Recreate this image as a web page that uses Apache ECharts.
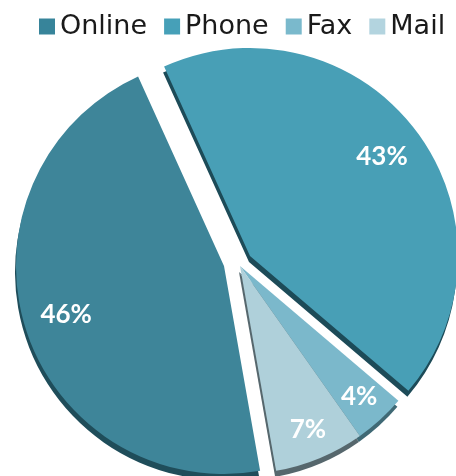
<!DOCTYPE html>
<html>
<head>
<meta charset="utf-8">
<script src="https://cdn.jsdelivr.net/npm/echarts@6/dist/echarts.min.js"></script>
<style>
html,body{margin:0;padding:0;background:#fff;}
#chart{width:456px;height:476px;}
</style>
</head>
<body>
<div id="chart"></div>
<script>
// ---- data ----
const categories = ['Online', 'Phone', 'Fax', 'Mail'];
const shares = [46, 43, 4, 7];
// which categories are pulled out together (indices into categories)
const explodedGroups = [[0], [1], [2, 3]];

// ---- styles ----
const sliceColors = ['#3e8599', '#489fb6', '#7bb8cb', '#afd0da'];
const legendColors = ['#37849a', '#46a0b8', '#7ab9cc', '#b3d4df'];
const sideColors = ['#1f4d5a', '#1d4b58', '#3f6975', '#56676d'];
const groupCenters = [[224, 266], [250, 256], [240, 266]];
const labelRadiusFactor = [1.56, 1.56, 1.67];
const R = 208;
const START = -80;

const chart = echarts.init(document.getElementById('chart'), null, {renderer: 'canvas'});

const series = [];
explodedGroups.forEach((grp, gi) => {
  const c = groupCenters[gi];
  series.push({
    type: 'pie',
    center: c,
    radius: [0, R],
    startAngle: START,
    clockwise: true,
    avoidLabelOverlap: false,
    silent: true,
    emphasis: {disabled: true},
    label: {show: false},
    labelLine: {show: false},
    data: categories.map((name, i) => ({
      name: name,
      value: shares[i],
      itemStyle: grp.includes(i) ? {
        color: sliceColors[i],
        shadowColor: sideColors[i],
        shadowBlur: 0,
        shadowOffsetX: -1,
        shadowOffsetY: 6
      } : {color: 'rgba(0,0,0,0)'}
    }))
  });
  series.push({
    type: 'pie',
    center: c,
    radius: [0, R * labelRadiusFactor[gi]],
    startAngle: START,
    clockwise: true,
    avoidLabelOverlap: false,
    silent: true,
    emphasis: {disabled: true},
    labelLine: {show: false},
    itemStyle: {color: 'rgba(0,0,0,0)'},
    data: categories.map((name, i) => ({
      name: name,
      value: shares[i],
      label: {
        show: grp.includes(i),
        position: 'inside',
        rotate: 0,
        formatter: shares[i] + '%',
        color: '#ffffff',
        fontFamily: 'Lato',
        fontWeight: 'bold',
        fontSize: 26
      }
    }))
  });
});

chart.setOption({
  animation: false,
  backgroundColor: '#ffffff',
  legend: {
    top: 13,
    left: 39,
    width: 417,
    padding: 0,
    itemWidth: 16,
    itemHeight: 16,
    itemGap: 17,
    icon: 'rect',
    selectedMode: false,
    textStyle: {
      fontFamily: 'DejaVu Sans',
      fontSize: 27,
      color: '#1a1a1a'
    },
    data: categories.map((name, i) => ({name: name, itemStyle: {color: legendColors[i]}}))
  },
  series: series
});
</script>
</body>
</html>
